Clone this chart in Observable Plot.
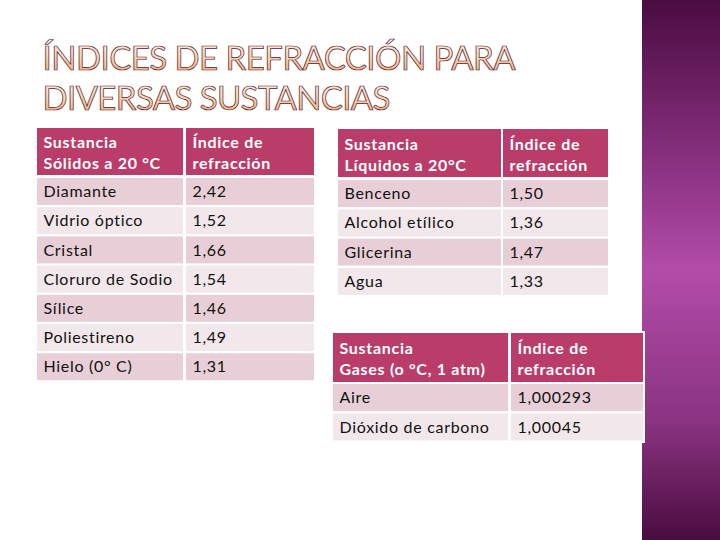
<!DOCTYPE html>
<html><head><meta charset="utf-8">
<script src="https://cdn.jsdelivr.net/npm/d3@7"></script>
<script src="https://cdn.jsdelivr.net/npm/@observablehq/plot@0.6"></script>
<style>
html,body{margin:0;padding:0;background:#fff;}
#chart svg text{letter-spacing:0.7px;}
</style></head><body><div id="chart"></div>
<script>
// ---- content ----
const titleLines = ["ÍNDICES DE REFRACCIÓN PARA", "DIVERSAS SUSTANCIAS"];

const solidHeader = ["Sustancia\nSólidos a 20 °C", "Índice de\nrefracción"];
const solidNames = ["Diamante", "Vidrio óptico", "Cristal", "Cloruro de Sodio", "Sílice", "Poliestireno", "Hielo (0° C)"];
const solidIndex = [2.42, 1.52, 1.66, 1.54, 1.46, 1.49, 1.31];

const liquidHeader = ["Sustancia\nLíquidos a 20°C", "Índice de\nrefracción"];
const liquidNames = ["Benceno", "Alcohol etílico", "Glicerina", "Agua"];
const liquidIndex = [1.50, 1.36, 1.47, 1.33];

const gasHeader = ["Sustancia\nGases (o °C, 1 atm)", "Índice de\nrefracción"];
const gasNames = ["Aire", "Dióxido de carbono"];
const gasIndex = [1.000293, 1.00045];

// ---- layout (page geometry) ----
const layout = {
  solid:  {cols: [[37, 183], [186, 314]], header: [128, 175], rowTop: 178, pitch: 29.2, rowH: 27},
  liquid: {cols: [[338, 501], [503, 608]], header: [129, 177], rowTop: 180, pitch: 29.3, rowH: 27},
  gas:    {cols: [[333, 508], [511, 643]], header: [333, 382], rowTop: 384, pitch: 29.5, rowH: 27},
  gasFrame: {x1: 331, x2: 645, y1: 331, y2: 443},
  band: {x1: 642, x2: 720, y1: 0, y2: 540},
  title: {x: 42, y: [59, 99], len: [473, 348], size: 33},
  pad: 6
};
const colors = {header: "#b93c69", rowA: "#e8cfd7", rowB: "#f2e7eb", text: "#111"};

const fmt = v => {
  const s = String(v);
  const d = Math.max(2, (s.split(".")[1] || "").length);
  return v.toFixed(d).replace(".", ",");
};

function buildTable(L, header, names, values) {
  const cells = [];
  header.forEach((h, c) => cells.push({x1: L.cols[c][0], x2: L.cols[c][1], y1: L.header[0], y2: L.header[1], fill: colors.header, label: h, head: true}));
  names.forEach((n, i) => {
    const y1 = L.rowTop + i * L.pitch, y2 = y1 + L.rowH;
    const fill = i % 2 === 0 ? colors.rowA : colors.rowB;
    cells.push({x1: L.cols[0][0], x2: L.cols[0][1], y1, y2, fill, label: n, head: false});
    cells.push({x1: L.cols[1][0], x2: L.cols[1][1], y1, y2, fill, label: fmt(values[i]), head: false});
  });
  return cells;
}

const cells = [
  ...buildTable(layout.solid, solidHeader, solidNames, solidIndex),
  ...buildTable(layout.liquid, liquidHeader, liquidNames, liquidIndex),
  ...buildTable(layout.gas, gasHeader, gasNames, gasIndex)
];
const titleData = titleLines.map((t, i) => ({text: t, x: layout.title.x, y: layout.title.y[i], len: layout.title.len[i]}));

const plot = Plot.plot({
  width: 720, height: 540, margin: 0,
  x: {domain: [0, 720], range: [0, 720], axis: null},
  y: {domain: [0, 540], range: [0, 540], axis: null},
  color: {type: "identity"},
  style: {fontFamily: "Lato, 'Open Sans', sans-serif", fontSize: "16px", background: "white", overflow: "visible"},
  marks: [
    Plot.rect([layout.band], {x1: "x1", x2: "x2", y1: "y1", y2: "y2", fill: "url(#bandGrad)"}),
    Plot.rect([layout.gasFrame], {x1: "x1", x2: "x2", y1: "y1", y2: "y2", fill: "white"}),
    Plot.rect(cells, {x1: "x1", x2: "x2", y1: "y1", y2: "y2", fill: "fill"}),
    Plot.text(cells.filter(d => d.head), {
      x: d => d.x1 + layout.pad, y: d => (d.y1 + d.y2) / 2, text: "label",
      fill: "white", fontWeight: "bold", textAnchor: "start", lineHeight: 1.3, fontSize: 16
    }),
    Plot.text(cells.filter(d => !d.head), {
      x: d => d.x1 + layout.pad, y: d => (d.y1 + d.y2) / 2, text: "label",
      fill: colors.text, textAnchor: "start", fontSize: 16
    }),
    Plot.text(titleData, {
      x: "x", y: "y", text: "text", textAnchor: "start", fontSize: layout.title.size, fontWeight: 400,
      fill: "url(#titleGrad)", stroke: "#4e1838", strokeWidth: 0.7, paintOrder: "fill"
    })
  ]
});

// gradients
const svg = d3.select(plot);
const defs = svg.insert("defs", ":first-child");
const bg = defs.append("linearGradient").attr("id", "bandGrad").attr("x1", 0).attr("y1", 0).attr("x2", 0).attr("y2", 1);
[[0, "#4a0c41"], [0.22, "#78276f"], [0.5, "#b24ca9"], [0.78, "#8a3381"], [1, "#4a0d40"]]
  .forEach(([o, c]) => bg.append("stop").attr("offset", o).attr("stop-color", c));
const tg = defs.append("linearGradient").attr("id", "titleGrad").attr("x1", 0).attr("y1", 0).attr("x2", 0).attr("y2", 1);
[[0, "#fff2e4"], [0.5, "#fcd6b0"], [1, "#f3a865"]]
  .forEach(([o, c]) => tg.append("stop").attr("offset", o).attr("stop-color", c));

// stretch title lines to the slide's width
svg.selectAll("text").each(function () {
  const t = d3.select(this).text();
  const d = titleData.find(e => e.text === t);
  if (d) d3.select(this).attr("textLength", d.len).attr("lengthAdjust", "spacing").style("letter-spacing", "0px");
});

document.getElementById("chart").appendChild(plot);
</script></body></html>
